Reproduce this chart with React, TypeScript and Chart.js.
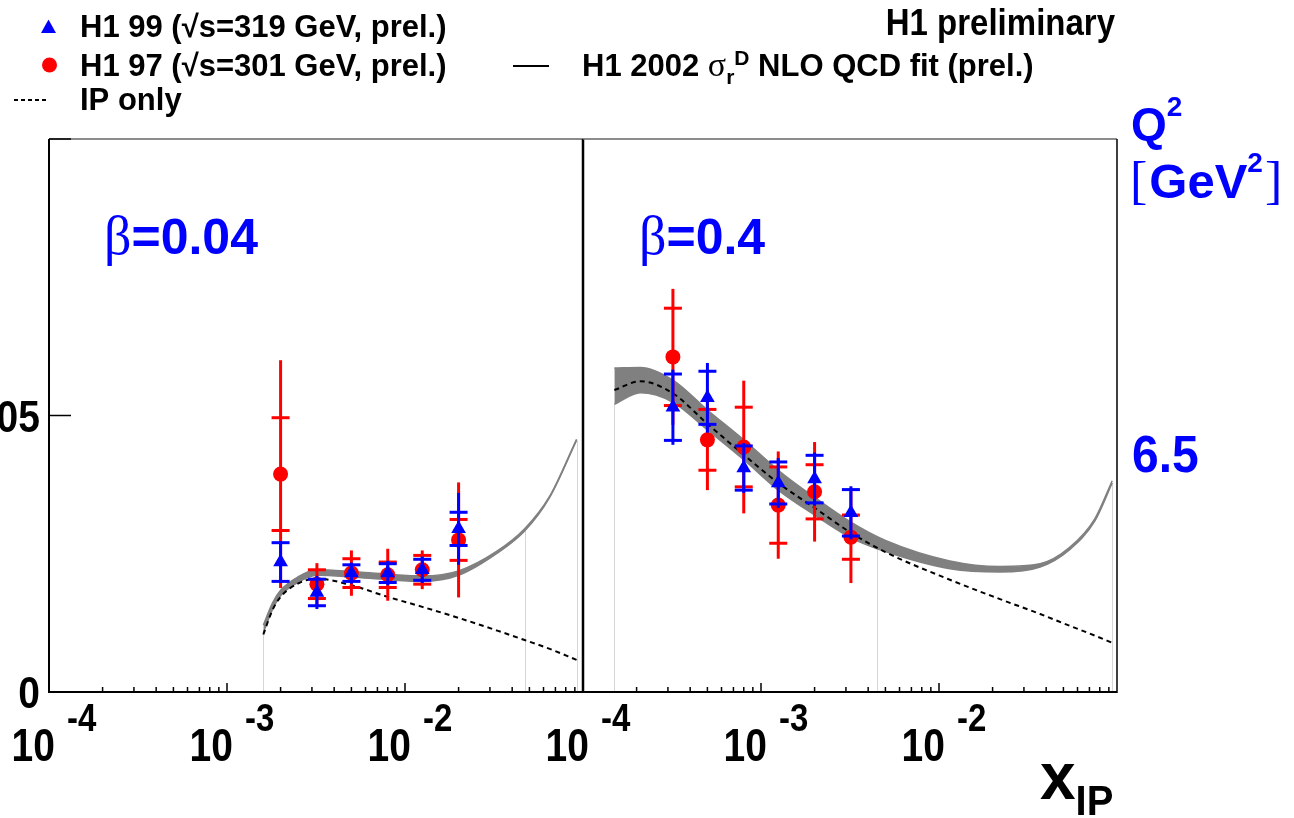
import React, { useEffect, useRef } from "react";
import { Chart, registerables } from "chart.js";

Chart.register(...registerables);

// ---------------- data: beta = 0.04 (left panel) ----------------
const xDataLeft = [0.002, 0.0032, 0.005, 0.008, 0.0125, 0.02];
const h197Left = [0.0394, 0.0195, 0.0215, 0.0212, 0.0221, 0.0275];
const h197LeftStat = [0.0102, 0.0026, 0.0026, 0.0023, 0.0026, 0.0037];
const h197LeftTot = [0.0206, 0.0038, 0.0041, 0.0047, 0.0035, 0.0104];
const h199Left = [0.0235, 0.018, 0.0215, 0.0215, 0.0221, 0.0295];
const h199LeftStat = [0.0035, 0.0024, 0.0015, 0.0017, 0.0019, 0.003];
const h199LeftTot = [0.0038, 0.003, 0.0019, 0.0022, 0.0024, 0.0065];

const xFitLeft = [0.0016, 0.0018, 0.002, 0.0025, 0.0032, 0.005, 0.008, 0.0125, 0.02, 0.033, 0.047, 0.065, 0.092];
const fitUpLeft = [0.0121, 0.0161, 0.0184, 0.0208, 0.0221, 0.0218, 0.0213, 0.021, 0.0219, 0.0255, 0.0295, 0.0354, 0.0457];
const fitLowLeft = [0.0107, 0.0149, 0.0174, 0.0198, 0.0211, 0.0208, 0.0203, 0.02, 0.0211, 0.0251, 0.0291, 0.0352, 0.0455];
const ipOnlyLeft = [0.0104, 0.0148, 0.0172, 0.0196, 0.0205, 0.0193, 0.0172, 0.0154, 0.0134, 0.0111, 0.0094, 0.0078, 0.0058];
const dropXLeft = [0.0016, 0.047, 0.092];
const dropYLeft = [0.0107, 0.0291, 0.0455];

// ---------------- data: beta = 0.4 (right panel) ----------------
const xDataRight = [0.00032, 0.0005, 0.0008, 0.00125, 0.002, 0.0032];
const h197Right = [0.0606, 0.0456, 0.0443, 0.0338, 0.0362, 0.028];
const h197RightStat = [0.0088, 0.0055, 0.0072, 0.0069, 0.0049, 0.004];
const h197RightTot = [0.0123, 0.0091, 0.012, 0.0097, 0.009, 0.0083];
const h199Right = [0.0515, 0.0532, 0.0405, 0.0378, 0.0385, 0.0324];
const h199RightStat = [0.006, 0.0048, 0.004, 0.0038, 0.0043, 0.0042];
const h199RightTot = [0.0068, 0.0063, 0.0045, 0.0045, 0.0048, 0.0048];

const xFitRight = [0.00015, 0.00021, 0.00032, 0.0005, 0.0008, 0.00125, 0.002, 0.0032, 0.005, 0.0115, 0.022, 0.037, 0.054, 0.075, 0.094];
const fitUpRight = [0.0586, 0.0587, 0.0564, 0.051, 0.0456, 0.0401, 0.0352, 0.0307, 0.0274, 0.0237, 0.0227, 0.0232, 0.0261, 0.0313, 0.0382];
const fitLowRight = [0.052, 0.0541, 0.0524, 0.0474, 0.042, 0.0365, 0.032, 0.0279, 0.0254, 0.0223, 0.0217, 0.0226, 0.0257, 0.0309, 0.0378];
const ipOnlyRight = [0.0546, 0.0562, 0.054, 0.0485, 0.0429, 0.0378, 0.0333, 0.0288, 0.0253, 0.0203, 0.0168, 0.0141, 0.012, 0.0102, 0.0089];
const dropXRight = [0.00015, 0.0045, 0.094];
const dropYRight = [0.052, 0.0258, 0.0378];

// ---------------- axes / labels ----------------
const xMin = 1e-4;
const xMax = 1e-1;
const yMin = 0;
const yMax = 0.1;
const xLabelExponents = [-4, -3, -2];
const yTickValues = [0, 0.05, 0.1];
const yTickLabels = ["0", "0.05", ""];
const betaLeft = "0.04";
const betaRight = "0.4";
const q2Value = "6.5";
const legendH199 = "H1 99 (\u221As=319 GeV, prel.)";
const legendH197 = "H1 97 (\u221As=301 GeV, prel.)";
const legendIP = "IP only";
const titleText = "H1 preliminary";

// ---------------- layout ----------------
const W = 1294;
const H = 818;
const TOP = 139;
const BOTTOM = 692;
const SANS = '"Liberation Sans", Arial, Helvetica, sans-serif';
const SERIF = '"Liberation Serif", "Times New Roman", serif';
const RED = "#ff0000";
const BLUE = "#0000ff";
const GREY = "#808080";

type Run = { t: string; f: string; dy?: number; dx?: number };

function drawRuns(ctx: CanvasRenderingContext2D, runs: Run[], x: number, y: number, color: string, align = "left", sy = 1) {
  let total = 0;
  for (const r of runs) {
    ctx.font = r.f;
    total += ctx.measureText(r.t).width + (r.dx || 0);
  }
  let cx = align === "right" ? x - total : align === "center" ? x - total / 2 : x;
  ctx.save();
  ctx.translate(0, y);
  ctx.scale(1, sy);
  ctx.fillStyle = color;
  ctx.textAlign = "left";
  ctx.textBaseline = "alphabetic";
  for (const r of runs) {
    ctx.font = r.f;
    cx += r.dx || 0;
    ctx.fillText(r.t, cx, (r.dy || 0) / sy);
    cx += ctx.measureText(r.t).width;
  }
  ctx.restore();
}

function line(ctx: CanvasRenderingContext2D, x1: number, y1: number, x2: number, y2: number) {
  ctx.beginPath();
  ctx.moveTo(x1, y1);
  ctx.lineTo(x2, y2);
  ctx.stroke();
}

type Spec = {
  id: string;
  padLeft: number;
  padRight: number;
  isLeft: boolean;
  xData: number[];
  red: number[];
  redStat: number[];
  redTot: number[];
  blue: number[];
  blueStat: number[];
  blueTot: number[];
  xFit: number[];
  fitUp: number[];
  fitLow: number[];
  ip: number[];
  dropX: number[];
  dropY: number[];
  beta: string;
};

function drawGlobal(ctx: CanvasRenderingContext2D) {
  const B = (s: number) => `bold ${s}px ${SANS}`;
  ctx.save();
  // legend
  ctx.fillStyle = BLUE;
  ctx.beginPath();
  ctx.moveTo(48.5, 19.5);
  ctx.lineTo(56, 33);
  ctx.lineTo(41, 33);
  ctx.closePath();
  ctx.fill();
  drawRuns(ctx, [{ t: legendH199, f: B(31) }], 80, 37, "#000");
  ctx.fillStyle = RED;
  ctx.beginPath();
  ctx.arc(49.5, 65, 7.5, 0, Math.PI * 2);
  ctx.fill();
  drawRuns(ctx, [{ t: legendH197, f: B(31) }], 80, 76, "#000");
  ctx.strokeStyle = "#000";
  ctx.lineWidth = 2;
  ctx.setLineDash([4, 3]);
  line(ctx, 14, 100, 48, 100);
  ctx.setLineDash([]);
  drawRuns(ctx, [{ t: legendIP, f: B(31) }], 80, 110, "#000");
  line(ctx, 513, 66, 549, 66);
  drawRuns(
    ctx,
    [
      { t: "H1 2002 ", f: B(31) },
      { t: "\u03c3", f: `34px ${SERIF}` },
      { t: "r", f: B(21), dy: 8 },
      { t: "D", f: B(21), dy: -11 },
      { t: " NLO QCD fit (prel.)", f: B(31) },
    ],
    582,
    76,
    "#000"
  );
  drawRuns(ctx, [{ t: titleText, f: B(33) }], 1115, 35, "#000", "right", 1.12);
  // Q^2 [GeV^2]
  drawRuns(ctx, [{ t: "Q", f: B(46) }, { t: "2", f: B(28), dy: -24 }], 1131, 140, BLUE);
  drawRuns(
    ctx,
    [
      { t: "[", f: `52px ${SERIF}` },
      { t: "GeV", f: B(49), dx: 2 },
      { t: "2", f: B(28), dy: -26 },
      { t: "]", f: `52px ${SERIF}`, dx: 2 },
    ],
    1130,
    198,
    BLUE
  );
  drawRuns(ctx, [{ t: q2Value, f: B(48) }], 1132, 472, BLUE, "left", 1.08);
  // x_IP
  drawRuns(ctx, [{ t: "x", f: B(64) }, { t: "IP", f: B(40), dy: 16 }], 1040, 799, "#000", "left", 1.05);
  ctx.restore();
}

function makePlugin(p: Spec) {
  return {
    id: "h1panel" + p.id,
    beforeDatasetsDraw(chart: any) {
      const { ctx, scales } = chart;
      const x = scales.x;
      const y = scales.y;
      ctx.save();
      ctx.strokeStyle = "#d6d6d6";
      ctx.lineWidth = 1;
      p.dropX.forEach((xv, i) => {
        const px = Math.round(x.getPixelForValue(xv)) + 0.5;
        line(ctx, px, y.getPixelForValue(p.dropY[i]), px, y.getPixelForValue(0));
      });
      ctx.restore();
    },
    beforeDatasetDraw(chart: any, args: any) {
      const ds: any = chart.data.datasets[args.index];
      if (!ds.errTot) return;
      const { ctx, chartArea, scales } = chart;
      const x = scales.x;
      const y = scales.y;
      ctx.save();
      ctx.beginPath();
      ctx.rect(chartArea.left, chartArea.top, chartArea.right - chartArea.left, chartArea.bottom - chartArea.top);
      ctx.clip();
      ctx.strokeStyle = ds.backgroundColor;
      ctx.lineWidth = 3;
      ds.data.forEach((pt: any, i: number) => {
        const px = x.getPixelForValue(pt.x);
        line(ctx, px, y.getPixelForValue(pt.y + ds.errTot[i]), px, y.getPixelForValue(pt.y - ds.errTot[i]));
        [pt.y + ds.errStat[i], pt.y - ds.errStat[i]].forEach((v) => {
          const py = y.getPixelForValue(v);
          line(ctx, px - 9, py, px + 9, py);
        });
      });
      ctx.restore();
    },
    afterDraw(chart: any) {
      const { ctx, chartArea, scales } = chart;
      const x = scales.x;
      const y = scales.y;
      const L = chartArea.left;
      const R = chartArea.right;
      const T = chartArea.top;
      const Bt = chartArea.bottom;
      ctx.save();
      // frame
      ctx.strokeStyle = "#666";
      ctx.lineWidth = 1.5;
      line(ctx, L, T, R, T);
      ctx.strokeStyle = "#000";
      ctx.lineWidth = 2;
      line(ctx, L - 1, Bt, R, Bt);
      if (p.isLeft) {
        line(ctx, L, T, L, Bt + 1);
        ctx.lineWidth = 2.5;
        line(ctx, R, T, R, Bt + 1);
      } else {
        ctx.lineWidth = 1.5;
        line(ctx, R, T, R, Bt + 1);
      }
      // x ticks
      ctx.lineWidth = 1.5;
      for (let d = -4; d <= -1; d++) {
        for (let m = 1; m <= 9; m++) {
          const v = m * Math.pow(10, d);
          if (v < xMin * 0.999 || v > xMax * 1.001) continue;
          const px = x.getPixelForValue(v);
          if (px <= L + 1 || px >= R - 1) continue;
          line(ctx, px, Bt, px, Bt - (m === 1 ? 9 : 5));
        }
      }
      // x labels
      xLabelExponents.forEach((e) => {
        const px = x.getPixelForValue(Math.pow(10, e));
        drawRuns(ctx, [{ t: "10", f: `bold 39px ${SANS}` }], px + 6, 761, "#000", "right", 1.2);
        drawRuns(ctx, [{ t: String(e), f: `bold 33px ${SANS}` }], px + 18, 731, "#000", "left", 1.2);
      });
      // y ticks + labels (left only)
      if (p.isLeft) {
        ctx.lineWidth = 1.5;
        yTickValues.forEach((v, i) => {
          const py = y.getPixelForValue(v);
          line(ctx, L, py, L + 22, py);
          if (yTickLabels[i]) drawRuns(ctx, [{ t: yTickLabels[i], f: `bold 39px ${SANS}` }], 40, py + 16, "#000", "right", 1.15);
        });
      }
      // beta label
      const bx = p.isLeft ? 104 : 639;
      drawRuns(
        ctx,
        [
          { t: "\u03b2", f: `54px ${SERIF}` },
          { t: "=" + p.beta, f: `bold 50px ${SANS}` },
        ],
        bx,
        254,
        BLUE
      );
      if (!p.isLeft) drawGlobal(ctx);
      ctx.restore();
    },
  };
}

function buildConfig(p: Spec): any {
  const pts = (xs: number[], ys: number[]) => xs.map((xv, i) => ({ x: xv, y: ys[i] }));
  return {
    type: "line",
    data: {
      datasets: [
        {
          label: "fit up",
          data: pts(p.xFit, p.fitUp),
          borderColor: GREY,
          borderWidth: 1.5,
          pointRadius: 0,
          cubicInterpolationMode: "monotone",
          fill: false,
          order: 5,
        },
        {
          label: "H1 2002 fit",
          data: pts(p.xFit, p.fitLow),
          borderColor: GREY,
          backgroundColor: GREY,
          borderWidth: 1.5,
          pointRadius: 0,
          cubicInterpolationMode: "monotone",
          fill: "-1",
          order: 4,
        },
        {
          label: "IP only",
          data: pts(p.xFit, p.ip),
          borderColor: "#000",
          borderWidth: 2,
          borderDash: [5, 4],
          pointRadius: 0,
          cubicInterpolationMode: "monotone",
          fill: false,
          order: 3,
        },
        {
          label: "H1 97",
          data: pts(p.xData, p.red),
          showLine: false,
          pointStyle: "circle",
          pointRadius: 7.5,
          pointBorderWidth: 0,
          backgroundColor: RED,
          borderColor: RED,
          errStat: p.redStat,
          errTot: p.redTot,
          order: 2,
        },
        {
          label: "H1 99",
          data: pts(p.xData, p.blue),
          showLine: false,
          pointStyle: "triangle",
          pointRadius: 8.5,
          pointBorderWidth: 0,
          backgroundColor: BLUE,
          borderColor: BLUE,
          errStat: p.blueStat,
          errTot: p.blueTot,
          order: 1,
        },
      ],
    },
    options: {
      responsive: false,
      animation: false,
      devicePixelRatio: 1,
      events: [],
      layout: { padding: { left: p.padLeft, right: p.padRight, top: TOP, bottom: H - BOTTOM } },
      plugins: { legend: { display: false }, tooltip: { enabled: false } },
      scales: {
        x: { type: "logarithmic", min: xMin, max: xMax, display: false },
        y: { type: "linear", min: yMin, max: yMax, display: false },
      },
    },
    plugins: [makePlugin(p)],
  };
}

const leftSpec: Spec = {
  id: "L",
  padLeft: 49,
  padRight: W - 583,
  isLeft: true,
  xData: xDataLeft,
  red: h197Left,
  redStat: h197LeftStat,
  redTot: h197LeftTot,
  blue: h199Left,
  blueStat: h199LeftStat,
  blueTot: h199LeftTot,
  xFit: xFitLeft,
  fitUp: fitUpLeft,
  fitLow: fitLowLeft,
  ip: ipOnlyLeft,
  dropX: dropXLeft,
  dropY: dropYLeft,
  beta: betaLeft,
};

const rightSpec: Spec = {
  id: "R",
  padLeft: 583,
  padRight: W - 1117,
  isLeft: false,
  xData: xDataRight,
  red: h197Right,
  redStat: h197RightStat,
  redTot: h197RightTot,
  blue: h199Right,
  blueStat: h199RightStat,
  blueTot: h199RightTot,
  xFit: xFitRight,
  fitUp: fitUpRight,
  fitLow: fitLowRight,
  ip: ipOnlyRight,
  dropX: dropXRight,
  dropY: dropYRight,
  beta: betaRight,
};

export default function App() {
  const leftRef = useRef<HTMLCanvasElement>(null);
  const rightRef = useRef<HTMLCanvasElement>(null);
  useEffect(() => {
    const c1 = new Chart(leftRef.current as HTMLCanvasElement, buildConfig(leftSpec));
    const c2 = new Chart(rightRef.current as HTMLCanvasElement, buildConfig(rightSpec));
    return () => {
      c1.destroy();
      c2.destroy();
    };
  }, []);
  const cs: React.CSSProperties = { position: "absolute", left: 0, top: 0, width: W, height: H };
  return (
    <div style={{ position: "absolute", left: 0, top: 0, width: W, height: H, background: "#fff", overflow: "hidden" }}>
      <canvas ref={leftRef} width={W} height={H} style={cs} />
      <canvas ref={rightRef} width={W} height={H} style={cs} />
    </div>
  );
}
